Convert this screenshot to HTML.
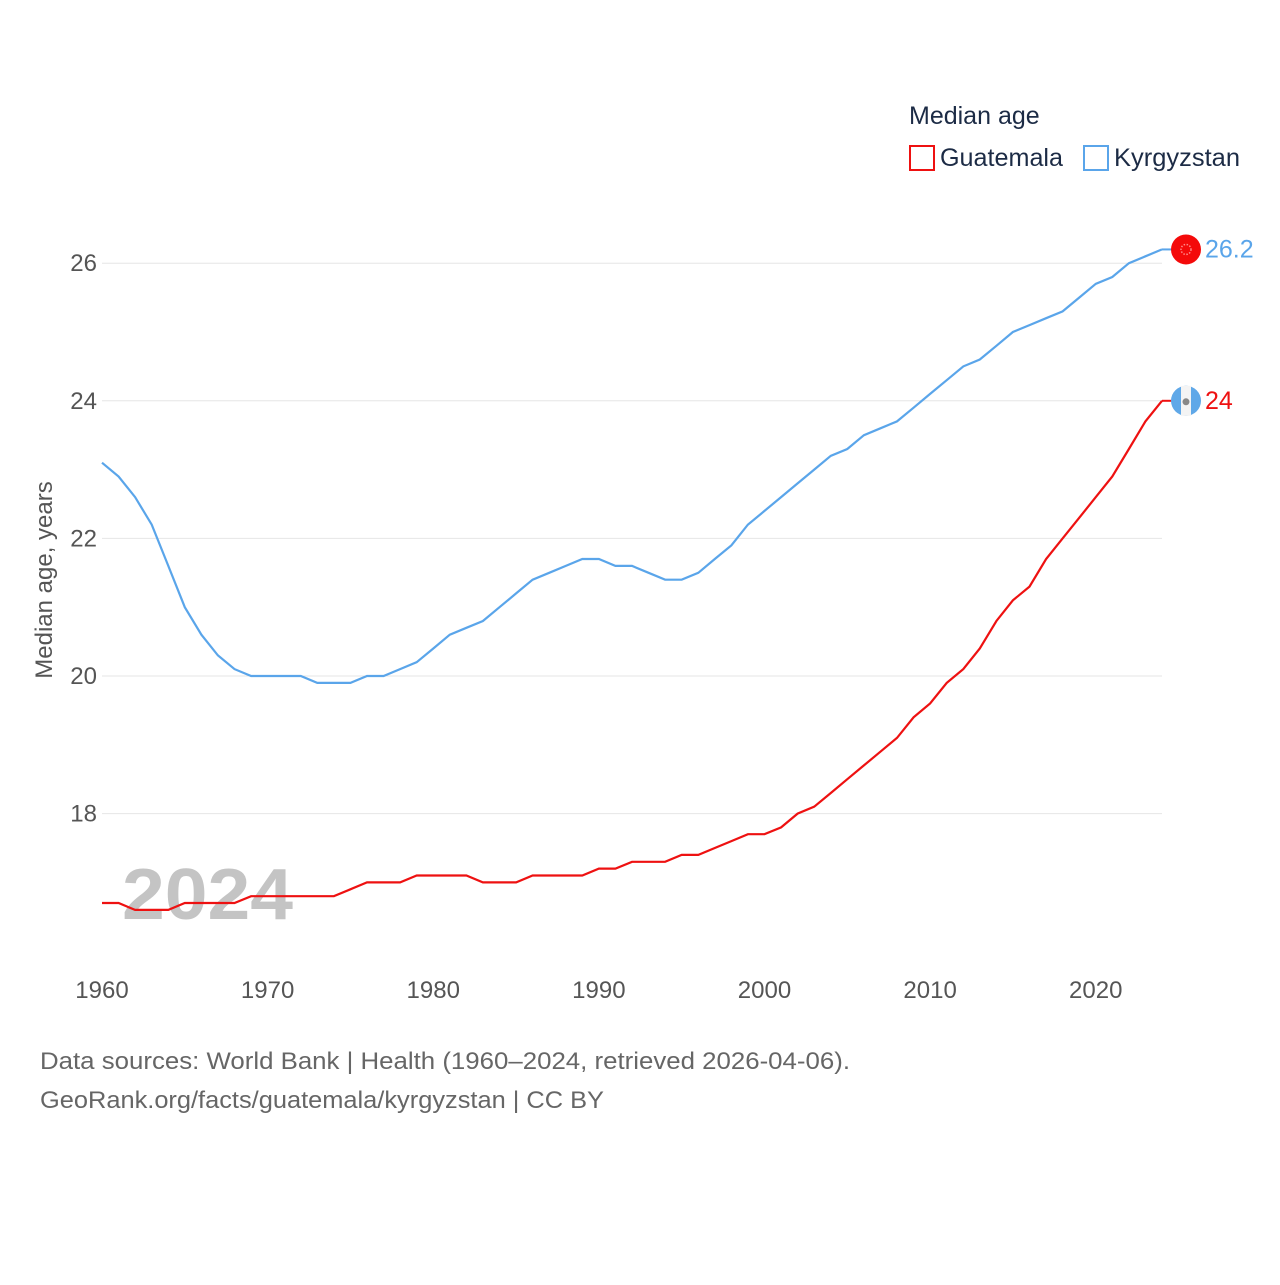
<!DOCTYPE html>
<html><head><meta charset="utf-8"><style>
body{margin:0;background:#fff;}
svg text{font-family:"Liberation Sans",sans-serif;}
</style></head><body>
<svg id="chart" width="1280" height="1280" xmlns="http://www.w3.org/2000/svg">
<rect width="1280" height="1280" fill="#fff"/>
<g id="grid"></g>
<text x="122" y="919" font-size="72" font-weight="bold" fill="#c4c4c4" textLength="171" lengthAdjust="spacingAndGlyphs">2024</text>
<g id="series"></g>
<g id="xticks"></g>
<g id="yticks"></g>
<text transform="translate(52,580) rotate(-90)" text-anchor="middle" font-size="24" fill="#555">Median age, years</text>
<g>
<text x="909" y="124" font-size="25" fill="#1c2b45">Median age</text>
<g>
<rect x="910" y="146" width="24" height="24" fill="none" stroke="#ee1111" stroke-width="2"/>
<text x="940" y="166" font-size="25" fill="#1c2b45" textLength="123" lengthAdjust="spacingAndGlyphs">Guatemala</text></g>
<g>
<rect x="1084" y="146" width="24" height="24" fill="none" stroke="#5aa5ea" stroke-width="2"/>
<text x="1114" y="166" font-size="25" fill="#1c2b45" textLength="126" lengthAdjust="spacingAndGlyphs">Kyrgyzstan</text></g>
</g>
<text x="40" y="1069" font-size="24" fill="#666" textLength="810" lengthAdjust="spacingAndGlyphs">Data sources: World Bank | Health (1960–2024, retrieved 2026-04-06).</text>
<text x="40" y="1108" font-size="24" fill="#666" textLength="564" lengthAdjust="spacingAndGlyphs">GeoRank.org/facts/guatemala/kyrgyzstan | CC BY</text>
</svg>
<script>
const years=[];for(let y=1960;y<=2024;y++)years.push(y);
const kyrgyzstan=[23.1,22.9,22.6,22.2,21.6,21.0,20.6,20.3,20.1,20.0,20.0,20.0,20.0,19.9,19.9,19.9,20.0,20.0,20.1,20.2,20.4,20.6,20.7,20.8,21.0,21.2,21.4,21.5,21.6,21.7,21.7,21.6,21.6,21.5,21.4,21.4,21.5,21.7,21.9,22.2,22.4,22.6,22.8,23.0,23.2,23.3,23.5,23.6,23.7,23.9,24.1,24.3,24.5,24.6,24.8,25.0,25.1,25.2,25.3,25.5,25.7,25.8,26.0,26.1,26.2];
const guatemala=[16.7,16.7,16.6,16.6,16.6,16.7,16.7,16.7,16.7,16.8,16.8,16.8,16.8,16.8,16.8,16.9,17.0,17.0,17.0,17.1,17.1,17.1,17.1,17.0,17.0,17.0,17.1,17.1,17.1,17.1,17.2,17.2,17.3,17.3,17.3,17.4,17.4,17.5,17.6,17.7,17.7,17.8,18.0,18.1,18.3,18.5,18.7,18.9,19.1,19.4,19.6,19.9,20.1,20.4,20.8,21.1,21.3,21.7,22.0,22.3,22.6,22.9,23.3,23.7,24.0];
const yTicks=[18,20,22,24,26];
const xTicks=[1960,1970,1980,1990,2000,2010,2020];
const NS="http://www.w3.org/2000/svg";
function sx(y){return 102+(y-1960)*(1162-102)/64;}
function sy(v){return 676-(v-20)*68.8;}
function mk(tag,attrs,parent){const e=document.createElementNS(NS,tag);for(const k in attrs)e.setAttribute(k,attrs[k]);parent.appendChild(e);return e;}
const grid=document.getElementById('grid'),yt=document.getElementById('yticks'),xt=document.getElementById('xticks'),ser=document.getElementById('series');
yTicks.forEach(v=>{
 const l=mk('line',{x1:102,x2:1162,y1:sy(v),y2:sy(v),stroke:'#e6e6e6','stroke-width':1},grid);
 
 
 const t=mk('text',{x:97,y:sy(v)+8,'text-anchor':'end','font-size':24,fill:'#555'},yt);
 t.textContent=v;
 
 
});
xTicks.forEach(v=>{
 const t=mk('text',{x:sx(v),y:998,'text-anchor':'middle','font-size':24,fill:'#555'},xt);
 t.textContent=v;
 
 
});
function line(vals,color,name){
 const p=mk('path',{d:vals.map((v,i)=>(i?'L':'M')+sx(years[i]).toFixed(1)+','+sy(v).toFixed(1)).join(''),fill:'none',stroke:color,'stroke-width':2.2},ser);
 
 
}
line(kyrgyzstan,'#5aa5ea','kyrgyzstan');
line(guatemala,'#ee1111','guatemala');
const lk=kyrgyzstan[kyrgyzstan.length-1],lg=guatemala[guatemala.length-1];
mk('line',{x1:1162,x2:1172,y1:sy(lk),y2:sy(lk),stroke:'#5aa5ea','stroke-width':2},ser);
mk('line',{x1:1162,x2:1172,y1:sy(lg),y2:sy(lg),stroke:'#ee1111','stroke-width':2},ser);
const fk=mk('circle',{cx:1186,cy:sy(lk),r:15,fill:'#f40a0a'},ser);


mk('circle',{cx:1186,cy:sy(lk),r:5,fill:'none',stroke:'#f88','stroke-width':1.5,'stroke-dasharray':'1.5 1.5'},ser);
const fg=mk('g',{},ser);


mk('circle',{cx:1186,cy:sy(lg),r:15,fill:'#5fa8e8'},fg);
mk('rect',{x:1181,y:sy(lg)-15,width:10,height:30,fill:'#f4f4f4'},fg);
mk('circle',{cx:1186,cy:sy(lg)+1,r:3.5,fill:'#888'},fg);
const tk=mk('text',{x:1205,y:sy(lk)+8,'font-size':25,fill:'#5aa5ea'},ser);
tk.textContent=lk;


const tg=mk('text',{x:1205,y:sy(lg)+8,'font-size':25,fill:'#ee1111'},ser);
tg.textContent=lg;


</script>
</body></html>
